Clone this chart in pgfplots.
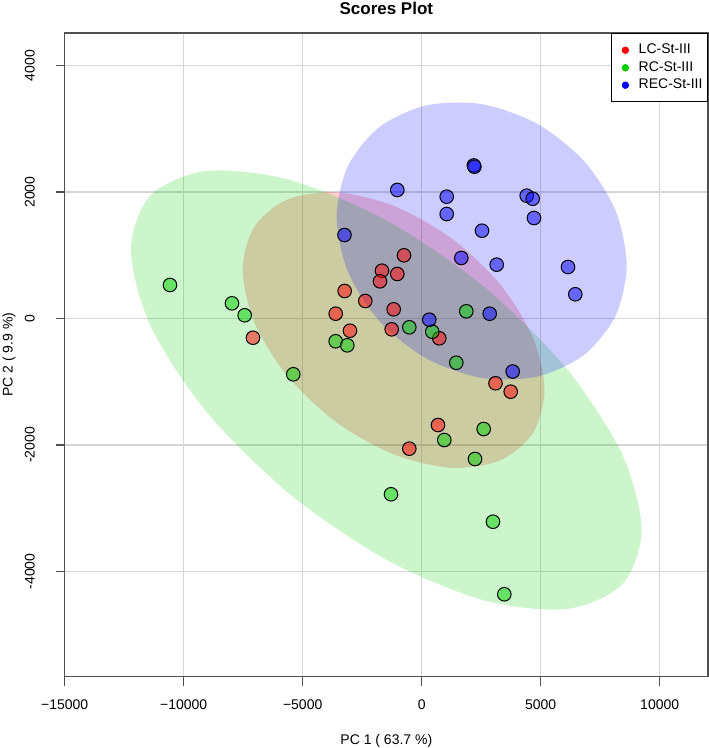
\documentclass[border=0pt]{standalone}
\usepackage{fontspec}
\setmainfont{Liberation Sans}
\usepackage{pgfplots}
\pgfplotsset{compat=1.18}

\definecolor{lcred}{RGB}{255,0,0}
\definecolor{rcgreen}{RGB}{0,205,0}
\definecolor{recblue}{RGB}{0,0,255}
\definecolor{gridgray}{RGB}{214,214,214}
\definecolor{axgray}{RGB}{80,80,80}

\begin{document}
\begin{tikzpicture}
\begin{axis}[name=ax,
  scale only axis, width=643.3pt, height=643.7pt,
  xmin=-15000, xmax=12030, ymin=-5663, ymax=4514,
  scaled x ticks=false, scaled y ticks=false,
  axis line style={axgray, line width=1.5pt},
  tick pos=left, tick align=outside, major tick length=9pt,
  tick style={axgray, line width=1.5pt},
  xtick={-15000,-10000,-5000,0,5000,10000},
  xticklabels={−15000,−10000,−5000,0,5000,10000},
  ytick={-4000,-2000,0,2000,4000},
  yticklabels={-4000,-2000,0,2000,4000},
  grid=major, major grid style={gridgray, line width=1.2pt},
  tick label style={font=\fontsize{14}{16}\selectfont},
  xticklabel style={anchor=base, yshift=-24pt},
  yticklabel style={xshift=-21pt, rotate=90, anchor=base},
  title={Scores Plot},
  title style={font=\fontsize{17}{20}\selectfont\bfseries, at={(axis description cs:0.5,1)}, anchor=base, yshift=12pt},
  xlabel={PC 1 ( 63.7 \%)},
  xlabel style={font=\fontsize{14}{16}\selectfont, at={(axis description cs:0.5,0)}, anchor=base, yshift=-68pt},
  ylabel={PC 2 ( 9.9 \%)},
  ylabel style={font=\fontsize{14}{16}\selectfont, at={([xshift=-52pt]axis description cs:0,0.5)}, rotate=0, anchor=base},
  legend style={at={(1,1)}, anchor=north east, draw=black, line width=1pt, fill=white,
    font=\fontsize{14}{16}\selectfont, cells={anchor=west},
    inner xsep=5pt, inner ysep=10pt, row sep=4pt, column sep=4.8pt,
    nodes={inner sep=0pt, text height=10.5pt, text depth=3pt}},
]
% confidence ellipses
\addplot[forget plot, draw=none, fill=lcred, fill opacity=0.2, smooth cycle] coordinates {
(5160,-1131) (4677,-1811) (3303,-2242) (1246,-2360) (-1181,-2147) (-3608,-1634) (-5665,-900) (-7039,-57)
(-7522,767) (-7039,1447) (-5665,1878) (-3608,1996) (-1181,1783) (1246,1270) (3303,536) (4677,-307)};
\addplot[forget plot, draw=none, fill=rcgreen, fill opacity=0.2, smooth cycle] coordinates {
(9241,-3343) (8425,-4202) (6099,-4592) (2619,-4456) (-1487,-3813) (-5593,-2762) (-9073,-1462) (-11399,-112)
(-12215,1083) (-11399,1942) (-9073,2332) (-5593,2196) (-1487,1553) (2619,502) (6099,-798) (8425,-2148)};
\addplot[forget plot, draw=none, fill=recblue, fill opacity=0.2, smooth cycle] coordinates {
(8614,846) (8150,47) (6829,-573) (4853,-919) (2521,-939) (189,-629) (-1787,-37) (-3108,747)
(-3572,1604) (-3108,2403) (-1787,3023) (189,3369) (2521,3389) (4853,3079) (6829,2487) (8150,1703)};
% scores
\addplot[forget plot, only marks, mark=*, mark size=6.8pt,
  mark options={fill=lcred, fill opacity=0.5, draw=black, draw opacity=1, line width=1pt}] coordinates {
(-744,999) (-1668,756) (-1025,704) (-1752,588) (-3236,435) (-2370,277) (-1177,145) (-3614,76)
(-7089,-304) (-3013,-193) (-1261,-171) (740,-313) (3101,-1024) (3740,-1157) (685,-1684) (-521,-2058)};
\addplot[forget plot, only marks, mark=*, mark size=6.8pt,
  mark options={fill=rcgreen, fill opacity=0.5, draw=black, draw opacity=1, line width=1pt}] coordinates {
(-10577,530) (-7971,240) (-7438,51) (-5395,-882) (-3614,-360) (-3126,-424) (-521,-139) (445,-209)
(1874,114) (1454,-699) (2605,-1747) (950,-1921) (2240,-2221) (-1290,-2779) (2996,-3213) (3471,-4360)};
\addplot[forget plot, only marks, mark=*, mark size=6.8pt,
  mark options={fill=recblue, fill opacity=0.5, draw=black, draw opacity=1, line width=1pt}] coordinates {
(2190,2420) (2215,2400) (-1025,2032) (1051,1926) (4412,1942) (4664,1894) (1051,1652) (4719,1589)
(2534,1388) (-3244,1320) (1664,957) (3152,851) (6148,814) (6454,383) (2857,76) (319,-19) (3824,-838)};
\addlegendimage{legend image code/.code={\path[draw=none, fill=none] (0pt,-3.7pt) rectangle (17pt,3.7pt); \fill[lcred, draw=none] (8.5pt,0pt) circle (3.7pt);}}
\addlegendentry{LC-St-III}
\addlegendimage{legend image code/.code={\path[draw=none, fill=none] (0pt,-3.7pt) rectangle (17pt,3.7pt); \fill[rcgreen, draw=none] (8.5pt,0pt) circle (3.7pt);}}
\addlegendentry{RC-St-III}
\addlegendimage{legend image code/.code={\path[draw=none, fill=none] (0pt,-3.7pt) rectangle (17pt,3.7pt); \fill[recblue, draw=none] (8.5pt,0pt) circle (3.7pt);}}
\addlegendentry{REC-St-III}
\end{axis}
\pgfresetboundingbox
\path (ax.south west) ++(-64.7pt,-71.3pt) rectangle ++(709pt,748pt);
\end{tikzpicture}
\end{document}
